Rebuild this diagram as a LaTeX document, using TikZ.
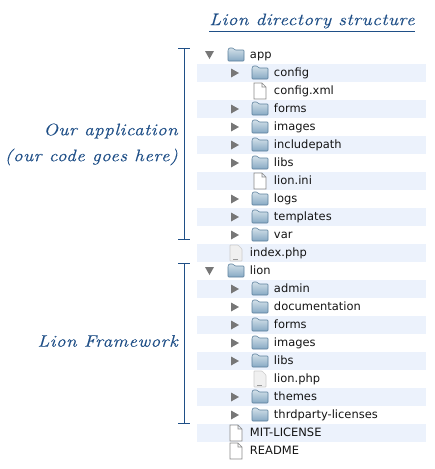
\documentclass[tikz,border=0pt]{standalone}
\usepackage{fontspec}
\usepackage{tikz}
\usetikzlibrary{arrows.meta, positioning}
\newfontfamily\rowfont{DejaVu Sans}
\newfontfamily\handfont[FakeStretch=1.15,LetterSpace=3,FakeBold=0.4]{Latin Modern Roman}
\definecolor{inkblue}{HTML}{1F4F87}
\definecolor{stripeblue}{HTML}{ECF2FC}
\definecolor{folderedge}{HTML}{5A7F9C}
\definecolor{foldertop}{HTML}{D3E0E9}
\definecolor{folderlow}{HTML}{86A9C3}
\definecolor{glyphgrey}{HTML}{777777}
\definecolor{pagegrey}{HTML}{8A8A8A}

\begin{document}
\begin{tikzpicture}[
    x=0.75pt, y=-0.75pt, node distance=0pt,
    entry/.style={inner sep=0pt, outer sep=0pt, minimum height=13.5pt, text width=171.75pt, align=left,
        text height=6.6pt, text depth=1.6pt, text=black!92, font=\rowfont\fontsize{8.6pt}{10pt}\selectfont},
    stripe/.style={fill=stripeblue},
    indentA/.style={execute at begin node=\hspace*{39.75pt}},
    indentB/.style={execute at begin node=\hspace*{57.75pt}},
    foldericon/.pic={\draw[draw=folderedge, top color=foldertop, bottom color=folderlow, rounded corners=0.6pt]
        (0,6) -- (16,6) -- (16,-5) -- (7,-5) -- (5,-7) -- (1,-7) -- (0,-5) -- cycle;},
    fileicon/.pic={\draw[draw=pagegrey, fill=white, line width=0.5pt]
        (0,8) -- (0,-8) -- (8,-8) -- (12,-4) -- (12,8) -- cycle (8,-8) -- (8,-4) -- (12,-4);},
    phpicon/.pic={\draw[draw=black!20, fill=black!6, line width=0.5pt, rounded corners=0.5pt]
        (0,8) -- (0,-8) -- (8,-8) -- (12,-4) -- (12,8) -- cycle;
        \draw[draw=black!40, line width=0.5pt] (3,6) -- (8,6);},
    openmark/.pic={\fill[glyphgrey] (0,-4) -- (9,-4) -- (4.5,4) -- cycle;},
    shutmark/.pic={\fill[glyphgrey] (0,-4.5) -- (8,0) -- (0,4.5) -- cycle;},
    opendir/.style={indentA, path picture={
        \path (path picture bounding box.west) ++(8,0) pic {openmark};
        \path (path picture bounding box.west) ++(31,0) pic {foldericon};}},
    shutdir/.style={indentB, path picture={
        \path (path picture bounding box.west) ++(34,0) pic {shutmark};
        \path (path picture bounding box.west) ++(55,0) pic {foldericon};}},
    subfile/.style={indentB, path picture={
        \path (path picture bounding box.west) ++(57,0) pic {fileicon};}},
    subphp/.style={indentB, path picture={
        \path (path picture bounding box.west) ++(57,0) pic {phpicon};}},
    topfile/.style={indentA, path picture={
        \path (path picture bounding box.west) ++(33,0) pic {fileicon};}},
    topphp/.style={indentA, path picture={
        \path (path picture bounding box.west) ++(33,0) pic {phpicon};}},
    hand/.style={inner sep=0pt, text=inkblue, font=\handfont\itshape\fontsize{12.5pt}{14pt}\selectfont},
    rule/.style={draw=inkblue, line width=1.1pt},
    bracket/.style={draw=inkblue, line width=0.75pt}]
\useasboundingbox (0,0) rectangle (435,469);

\node[hand] (title) at (312,21) {Lion directory structure};
\draw[rule] ([yshift=-2pt]title.south west) -- ([yshift=-2pt]title.south east);

\node[entry, opendir] (app) at (311.5,55) {app};
\node[entry, stripe, shutdir, below=of app] (config) {config};
\node[entry, subfile, below=of config] (configxml) {config.xml};
\node[entry, stripe, shutdir, below=of configxml] (forms) {forms};
\node[entry, shutdir, below=of forms] (images) {images};
\node[entry, stripe, shutdir, below=of images] (includepath) {includepath};
\node[entry, shutdir, below=of includepath] (libs) {libs};
\node[entry, stripe, subfile, below=of libs] (lionini) {lion.ini};
\node[entry, shutdir, below=of lionini] (logs) {logs};
\node[entry, stripe, shutdir, below=of logs] (templates) {templates};
\node[entry, shutdir, below=of templates] (var) {var};
\node[entry, stripe, topphp, below=of var] (index) {index.php};
\node[entry, opendir, below=of index] (lion) {lion};
\node[entry, stripe, shutdir, below=of lion] (admin) {admin};
\node[entry, shutdir, below=of admin] (documentation) {documentation};
\node[entry, stripe, shutdir, below=of documentation] (lionforms) {forms};
\node[entry, shutdir, below=of lionforms] (lionimages) {images};
\node[entry, stripe, shutdir, below=of lionimages] (lionlibs) {libs};
\node[entry, subphp, below=of lionlibs] (lionphp) {lion.php};
\node[entry, stripe, shutdir, below=of lionphp] (themes) {themes};
\node[entry, shutdir, below=of themes] (thrdparty) {thrdparty-licenses};
\node[entry, stripe, topfile, below=of thrdparty] (license) {MIT-LICENSE};
\node[entry, topfile, below=of license] (readme) {README};

\coordinate (apptop) at (184,48);
\coordinate (append) at (184,239);
\coordinate (liontop) at (184,263);
\coordinate (lionend) at (184,423.5);
\draw[bracket] (apptop) -- (append);
\draw[bracket] ([xshift=-4.5pt]apptop) -- ([xshift=4.5pt]apptop);
\draw[bracket] ([xshift=-4.5pt]append) -- ([xshift=4.5pt]append);
\draw[bracket] (liontop) -- (lionend);
\draw[bracket] ([xshift=-4.5pt]liontop) -- ([xshift=4.5pt]liontop);
\draw[bracket] ([xshift=-4.5pt]lionend) -- ([xshift=4.5pt]lionend);

\node[hand, anchor=east] (ourapp) at (178,131) {Our application};
\node[hand, anchor=east] (ourcode) at (178,157) {(our code goes here)};
\node[hand, anchor=east] (framework) at (178,341) {Lion Framework};
\end{tikzpicture}
\end{document}
